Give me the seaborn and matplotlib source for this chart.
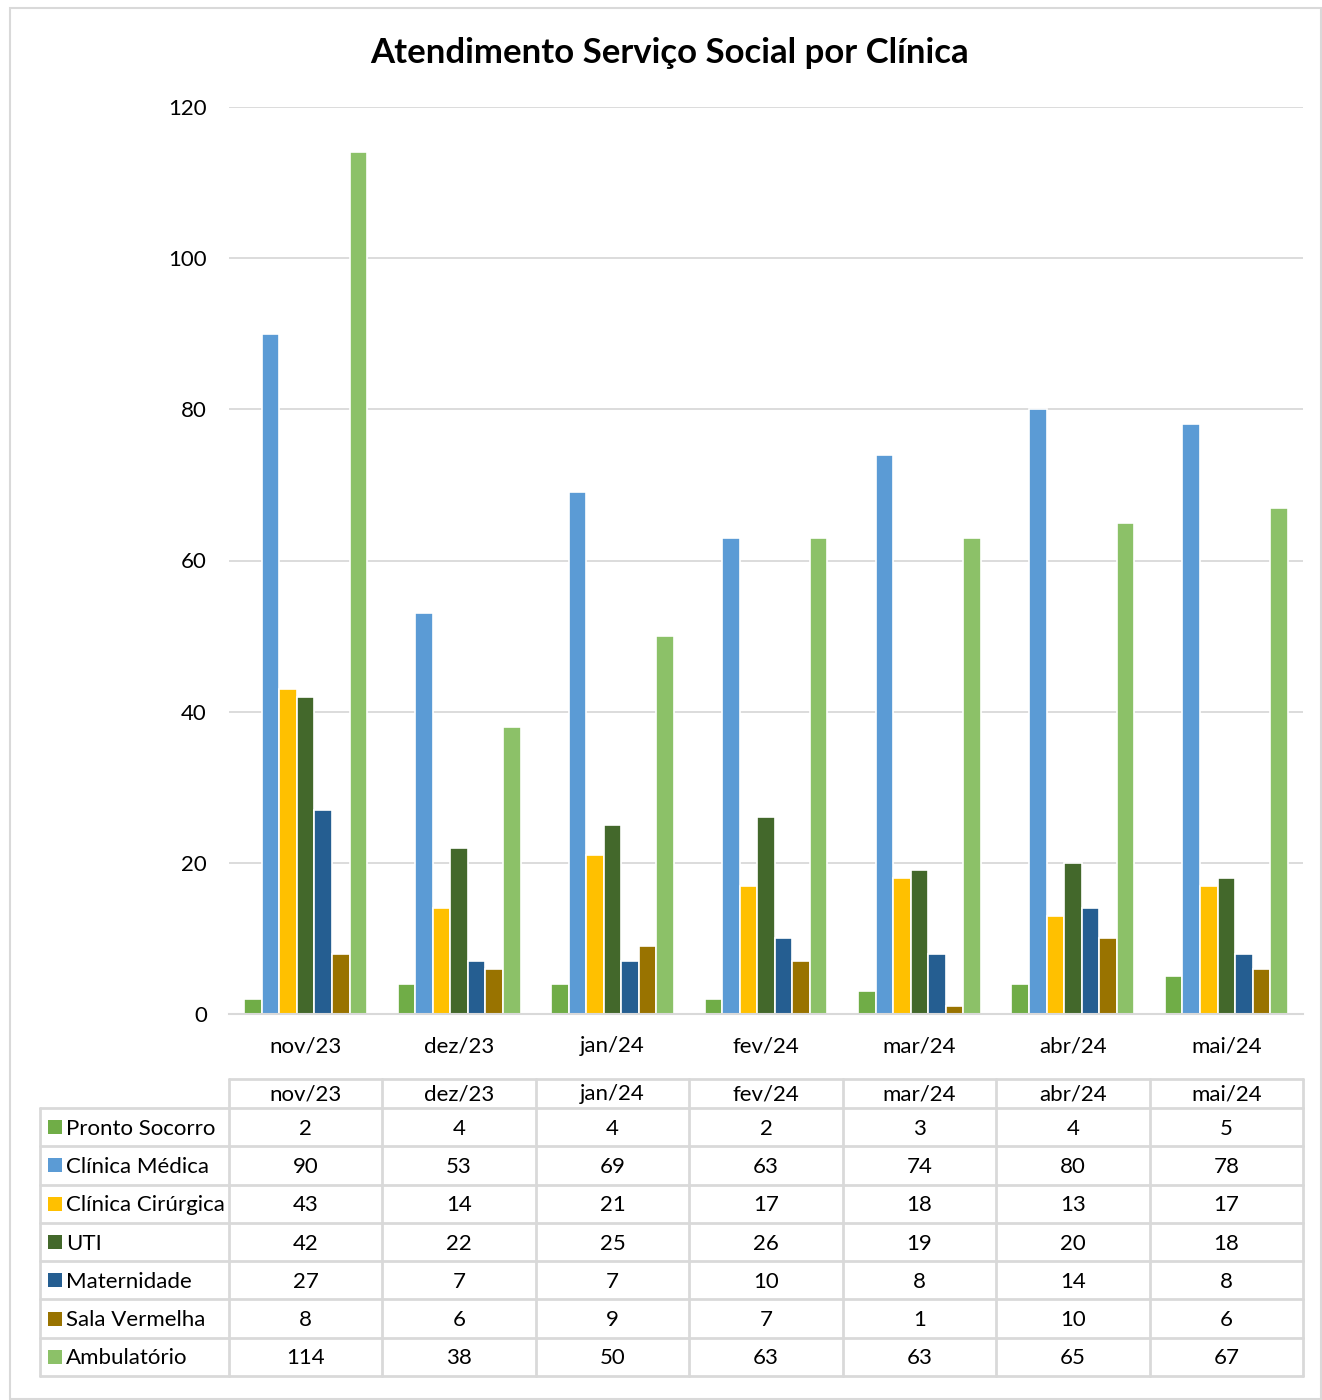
import matplotlib
matplotlib.use("Agg")
import matplotlib.pyplot as plt
from matplotlib.patches import Rectangle
from matplotlib.lines import Line2D
import seaborn as sns
import pandas as pd

months = ["nov/23", "dez/23", "jan/24", "fev/24", "mar/24", "abr/24", "mai/24"]
series_names = ["Pronto Socorro", "Clínica Médica", "Clínica Cirúrgica", "UTI",
                "Maternidade", "Sala Vermelha", "Ambulatório"]
pronto_socorro = [2, 4, 4, 2, 3, 4, 5]
clinica_medica = [90, 53, 69, 63, 74, 80, 78]
clinica_cirurgica = [43, 14, 21, 17, 18, 13, 17]
uti = [42, 22, 25, 26, 19, 20, 18]
maternidade = [27, 7, 7, 10, 8, 14, 8]
sala_vermelha = [8, 6, 9, 7, 1, 10, 6]
ambulatorio = [114, 38, 50, 63, 63, 65, 67]
colors = ["#70AD47", "#5B9BD5", "#FFC000", "#43682B", "#255E91", "#997300", "#8CC168"]

series_values = [pronto_socorro, clinica_medica, clinica_cirurgica, uti,
                 maternidade, sala_vermelha, ambulatorio]

rows = []
for name, vals in zip(series_names, series_values):
    for m, v in zip(months, vals):
        rows.append({"Mês": m, "Clínica": name, "Atendimentos": v})
df = pd.DataFrame(rows)

sns.set_theme(style="white")
plt.rcParams["font.family"] = ["Lato", "DejaVu Sans"]

W, H = 1322, 1400
fig = plt.figure(figsize=(W / 100, H / 100), dpi=100)

def fx(px):
    return px / W

def fy(py):
    return 1 - py / H

# outer frame
fig.add_artist(Rectangle((fx(10), fy(1399)), fx(1311), (1391) / H, transform=fig.transFigure,
                         fill=False, edgecolor="#D9D9D9", linewidth=1.5))

ax_left, ax_right, ax_top, ax_bottom = 229, 1303, 107, 1014
ax = fig.add_axes([fx(ax_left), fy(ax_bottom), (ax_right - ax_left) / W, (ax_bottom - ax_top) / H])

sns.barplot(data=df, x="Mês", y="Atendimentos", hue="Clínica", order=months,
            hue_order=series_names, palette=colors, saturation=1, width=0.8, ax=ax,
            edgecolor="white", linewidth=1.2, legend=False)

ax.set_ylim(0, 120)
ax.set_yticks(range(0, 121, 20))
ax.set_xlim(-0.5, len(months) - 0.5)
ax.yaxis.grid(True, color="#D9D9D9", linewidth=1.3)
ax.set_axisbelow(True)
for s in ["top", "right", "left"]:
    ax.spines[s].set_visible(False)
ax.spines["bottom"].set_color("#D9D9D9")
ax.spines["bottom"].set_linewidth(1.5)
ax.set_xlabel("")
ax.set_ylabel("")
ax.tick_params(axis="y", length=0, pad=16, labelsize=16, labelcolor="#000000")
ax.tick_params(axis="x", length=0, pad=16, labelsize=16, labelcolor="#000000")

fig.text(fx(670), fy(53), "Atendimento Serviço Social por Clínica", ha="center", va="center",
         fontsize=25, fontweight="bold", color="#000000")

# data table below the chart
grid_color = "#D9D9D9"
col_x = [ax_left + i * (ax_right - ax_left) / len(months) for i in range(len(months) + 1)]
header_top, header_bottom, table_bottom = 1079, 1108, 1376
row_h = (table_bottom - header_bottom) / len(series_names)
row_y = [header_bottom + i * row_h for i in range(len(series_names) + 1)]
label_left = 40

def hline(x0, x1, y):
    fig.add_artist(Line2D([fx(x0), fx(x1)], [fy(y), fy(y)], transform=fig.transFigure,
                          color=grid_color, linewidth=2))

def vline(x, y0, y1):
    fig.add_artist(Line2D([fx(x), fx(x)], [fy(y0), fy(y1)], transform=fig.transFigure,
                          color=grid_color, linewidth=2))

hline(ax_left, ax_right, header_top)
for y in row_y:
    hline(label_left, ax_right, y)
vline(label_left, header_bottom, table_bottom)
for x in col_x:
    vline(x, header_top, table_bottom)

for i, m in enumerate(months):
    cx = (col_x[i] + col_x[i + 1]) / 2
    fig.text(fx(cx), fy((header_top + header_bottom) / 2 + 1), m, ha="center", va="center",
             fontsize=16, color="#000000")

for r, (name, vals, c) in enumerate(zip(series_names, series_values, colors)):
    cy = (row_y[r] + row_y[r + 1]) / 2
    fig.add_artist(Rectangle((fx(48), fy(cy + 7)), 14 / W, 14 / H, transform=fig.transFigure,
                             facecolor=c, edgecolor="none"))
    fig.text(fx(66), fy(cy + 1.5), name, ha="left", va="center", fontsize=16, color="#000000")
    for i, v in enumerate(vals):
        cx = (col_x[i] + col_x[i + 1]) / 2
        fig.text(fx(cx), fy(cy + 1.5), str(v), ha="center", va="center", fontsize=16, color="#000000")

fig.savefig("out.png", dpi=100, facecolor="white")
